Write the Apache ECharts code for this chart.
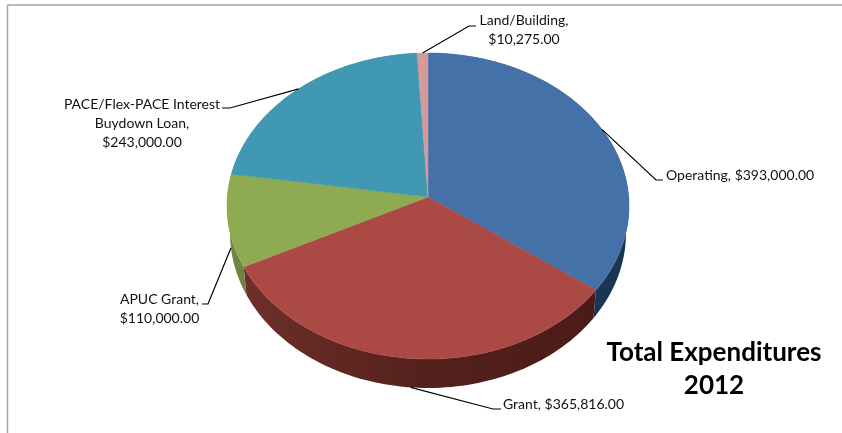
<!DOCTYPE html>
<html>
<head>
<meta charset="utf-8">
<style>html,body{margin:0;padding:0;background:#fff}#chart{width:842px;height:433px}</style>
<script src="https://cdn.jsdelivr.net/npm/echarts@6/dist/echarts.min.js"></script>
</head>
<body>
<div id="chart"></div>
<script>
var categories = ['Operating', 'Grant', 'APUC Grant', 'PACE/Flex-PACE Interest\nBuydown Loan', 'Land/Building'];
var expenditures = [393000, 365816, 110000, 243000, 10275];
var faceColors = ['#4472a8', '#ab4a45', '#8fab52', '#4198b2', '#d79a9b'];
var wallStart = ['#1f3f66', '#6e2f29', '#71893f', '#2f7388', '#a87273'];
var wallMid = ['#1c3a5c', '#55211c', '#6e8640', '#2f7388', '#a87273'];
var wallEnd = ['#1a3452', '#4b1b17', '#6a8239', '#2f7388', '#a87273'];
var titleText = 'Total Expenditures\n2012';

// label layout in page pixels: elbow of the leader, its end, text anchor
var labelLayout = [
  {rim: 'top', elbow: [656, 180], end: [663, 180], text: [666, 175], align: 'left', sep: ', '},
  {rim: 'low', elbow: [493, 409], end: [501, 409], text: [503, 404], align: 'left', sep: ', '},
  {rim: 'low', elbow: [208, 304], end: [202, 304], text: [159.5, 308.5], align: 'center', sep: ',\n'},
  {rim: 'top', elbow: [230, 108], end: [222, 108], text: [142, 123], align: 'center', sep: ',\n'},
  {rim: 'top', elbow: [469, 26], end: [476, 26], text: [524, 30], align: 'center', sep: ',\n'}
];

var total = expenditures.reduce(function (a, b) { return a + b; }, 0);
var cumulative = [];
expenditures.reduce(function (acc, v, i) { cumulative[i] = acc; return acc + v; }, 0);

var TILT = -9 / 153;        // perspective of the tilted disc
var WALL_SHIFT = 27 / 153;  // lower rim offset, in disc radii
var WALL_SY = 155 / 153;
var WALL_SX = 198 / 201;

function faceRim(t) {
  var u = Math.sin(t), v = -Math.cos(t), d = 1 + TILT * v;
  return [Math.sqrt(1 - TILT * TILT) * u / d, (v + TILT) / d];
}
function lowRim(t) {
  var p = faceRim(t);
  return [p[0] * WALL_SX, WALL_SHIFT + p[1] * WALL_SY];
}
function angleOf(cum) { return cum / total * 2 * Math.PI; }
function sampleAngles(a, b) {
  var n = Math.max(2, Math.ceil((b - a) / (Math.PI / 120))), out = [];
  for (var i = 0; i <= n; i++) out.push(a + (b - a) * i / n);
  return out;
}
function money(v) {
  return '$' + v.toLocaleString('en-US', {minimumFractionDigits: 2, maximumFractionDigits: 2});
}
function sliceRange(api, i) {
  var a = angleOf(cumulative[i]);
  return [a, a + angleOf(api.value(0))];
}

function renderWall(params, api) {
  var i = params.dataIndex, r = sliceRange(api, i);
  var angles = sampleAngles(r[0], r[1]), pts = [];
  angles.forEach(function (t) { pts.push(api.coord(faceRim(t))); });
  angles.slice().reverse().forEach(function (t) { pts.push(api.coord(lowRim(t))); });
  return {
    type: 'polygon', shape: {points: pts},
    style: {fill: new echarts.graphic.LinearGradient(0, 0, 1, 0, [
      {offset: 0, color: wallStart[i]}, {offset: 0.5, color: wallMid[i]}, {offset: 1, color: wallEnd[i]}
    ])}
  };
}
function renderFace(params, api) {
  var i = params.dataIndex, r = sliceRange(api, i);
  var pts = [api.coord([0, TILT])];
  sampleAngles(r[0], r[1]).forEach(function (t) { pts.push(api.coord(faceRim(t))); });
  return {type: 'polygon', shape: {points: pts},
    style: {fill: faceColors[i], stroke: faceColors[i], lineWidth: 0.5}};
}
function renderLabel(params, api) {
  var i = params.dataIndex, r = sliceRange(api, i), L = labelLayout[i];
  var mid = (r[0] + r[1]) / 2;
  var start = api.coord(L.rim === 'top' ? faceRim(mid) : lowRim(mid));
  return {
    type: 'group',
    children: [
      {type: 'polyline', shape: {points: [start, L.elbow, L.end]},
        style: {stroke: '#000', lineWidth: 1.2, fill: null}},
      {type: 'text', x: L.text[0], y: L.text[1],
        style: {
          text: categories[i] + L.sep + money(api.value(0)),
          align: L.align, verticalAlign: 'middle',
          font: '14px Lato', lineHeight: 19, fill: '#111'
        }}
    ]
  };
}
var rows = expenditures.map(function (v) { return [v]; });
function discSeries(render, z) {
  return {type: 'custom', coordinateSystem: 'cartesian2d', renderItem: render, data: rows,
    z: z, silent: true, clip: false, animation: false, encode: {x: -1, y: -1}};
}

var chart = echarts.init(document.getElementById('chart'), null, {renderer: 'canvas'});
chart.setOption({
  animation: false,
  backgroundColor: '#fff',
  title: {
    text: titleText, left: 709, top: 331, textAlign: 'center',
    textStyle: {fontFamily: 'Lato', fontSize: 26, fontWeight: 'bold', color: '#000', lineHeight: 33}
  },
  grid: {left: 227, top: 53, width: 402, height: 306},
  xAxis: {type: 'value', min: -1, max: 1, show: false},
  yAxis: {type: 'value', min: -1, max: 1, inverse: true, show: false},
  graphic: [
    {type: 'line', shape: {x1: 7.5, y1: 5, x2: 842, y2: 5}, style: {stroke: '#a3a3a3', lineWidth: 1.5}},
    {type: 'line', shape: {x1: 7.5, y1: 5, x2: 7.5, y2: 433}, style: {stroke: '#a3a3a3', lineWidth: 1.5}}
  ],
  series: [discSeries(renderWall, 2), discSeries(renderFace, 3), discSeries(renderLabel, 4)]
});
</script>
</body>
</html>
